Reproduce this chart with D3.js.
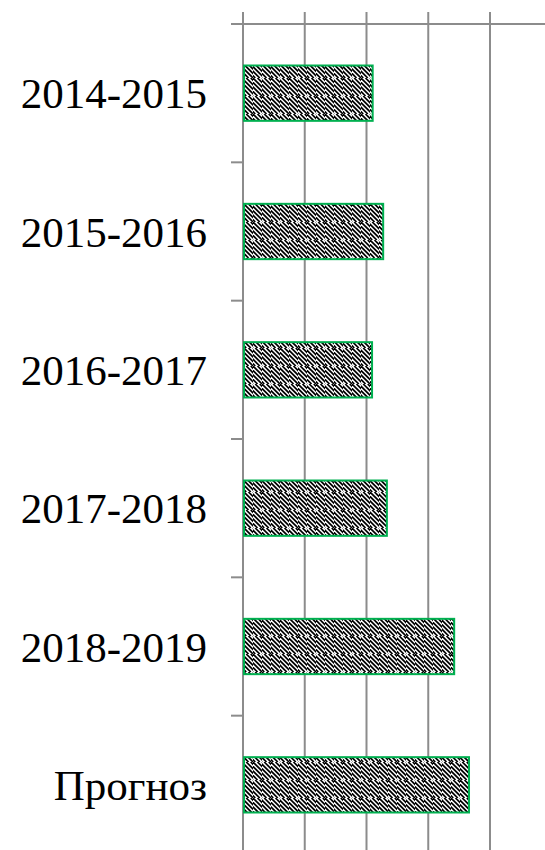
<!DOCTYPE html>
<html>
<head>
<meta charset="utf-8">
<script src="https://cdn.jsdelivr.net/npm/d3@7"></script>
<style>
  body { margin: 0; background: #fff; }
  svg { display: block; }
</style>
</head>
<body>
<svg width="545" height="850"></svg>
<script>
// categories and values (no value labels shown)
const categories = ['2014-2015', '2015-2016', '2016-2017', '2017-2018', '2018-2019', 'Прогноз'];
const values = [2.1, 2.27, 2.09, 2.33, 3.42, 3.66];
const gridTicks = [0, 1, 2, 3, 4];

const svg = d3.select('svg'),
	width = +svg.attr('width'),
	height = +svg.attr('height');

const marginLeft = 243, marginTop = 24;

// scales
const x = d3.scaleLinear().domain([0, 5]).range([marginLeft, marginLeft + 5 * 61.75]);
const y = d3.scaleBand().domain(categories).range([marginTop, marginTop + 830]).paddingInner(0.6).paddingOuter(0.3);

// hatch pattern for bars: 9x18 cells of diagonal stripes, alternating phase
const cw = 9, ch = 18;
const defs = svg.append('defs');
const pat = defs.append('pattern')
	.attr('id', 'hatch')
	.attr('patternUnits', 'userSpaceOnUse')
	.attr('x', marginLeft + 1)
	.attr('y', marginTop)
	.attr('width', cw * 2)
	.attr('height', ch * 2);
pat.append('rect').attr('width', cw * 2).attr('height', ch * 2).attr('fill', '#fff');
[[0, 0, 0], [1, 1, 0], [1, 0, 2.25], [0, 1, 2.25]].forEach(function(c, idx) {
	const g = pat.append('g').attr('transform', `translate(${c[0] * cw},${c[1] * ch})`);
	g.append('clipPath').attr('id', 'cp' + idx)
		.append('rect').attr('width', cw).attr('height', ch);
	const gg = g.append('g').attr('clip-path', `url(#cp${idx})`);
	for (let k = -6; k < 4; k++) {
		const o = k * 4.5 + c[2];
		gg.append('line')
			.attr('x1', o).attr('y1', 0)
			.attr('x2', o + ch).attr('y2', ch)
			.attr('stroke', '#000')
			.attr('stroke-width', 1.7);
	}
});

// vertical gridlines with small ticks above the top axis
svg.append('g')
	.selectAll('line')
	.data(gridTicks)
	.enter()
	.append('line')
	.attr('x1', d => x(d))
	.attr('x2', d => x(d))
	.attr('y1', marginTop - 12)
	.attr('y2', height)
	.attr('stroke', '#8c8c8c')
	.attr('stroke-width', 2);

// top axis line
svg.append('line')
	.attr('x1', marginLeft - 12)
	.attr('x2', width)
	.attr('y1', marginTop)
	.attr('y2', marginTop)
	.attr('stroke', '#8c8c8c')
	.attr('stroke-width', 2);

// category boundary ticks on the left
svg.append('g')
	.selectAll('line')
	.data(categories.slice(1))
	.enter()
	.append('line')
	.attr('x1', marginLeft - 12)
	.attr('x2', marginLeft)
	.attr('y1', (d, i) => marginTop + (i + 1) * y.step())
	.attr('y2', (d, i) => marginTop + (i + 1) * y.step())
	.attr('stroke', '#8c8c8c')
	.attr('stroke-width', 2);

// bars
svg.append('g')
	.selectAll('rect')
	.data(values)
	.enter()
	.append('rect')
	.attr('x', x(0) + 1)
	.attr('y', (d, i) => y(categories[i]))
	.attr('width', d => x(d) - x(0) - 1)
	.attr('height', y.bandwidth())
	.attr('fill', 'url(#hatch)')
	.attr('stroke', '#00b050')
	.attr('stroke-width', 2);

// category labels
svg.append('g')
	.selectAll('text')
	.data(categories)
	.enter()
	.append('text')
	.attr('x', 207)
	.attr('y', d => y(d) + y.bandwidth() / 2)
	.attr('dy', '0.35em')
	.attr('text-anchor', 'end')
	.style('font-family', '"Liberation Serif", "Times New Roman", serif')
	.style('font-size', '43px')
	.style('fill', '#000')
	.text(d => d);
</script>
</body>
</html>
